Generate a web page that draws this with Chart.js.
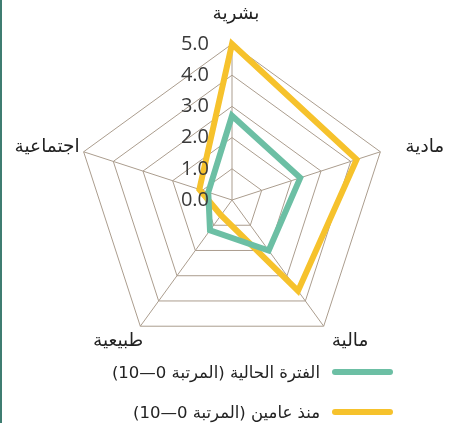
<!DOCTYPE html>
<html lang="ar">
<head>
    <meta charset="UTF-8">
    <title>Radar</title>
    <style>
        body {
            margin: 0;
            background: #fff;
        }

        .wrap {
            position: relative;
            width: 451px;
            height: 423px;
            overflow: hidden;
        }

        .strip {
            position: absolute;
            left: 0;
            top: 0;
            width: 2px;
            height: 423px;
            background: #3f7d71;
        }

        .legend {
            position: absolute;
            right: 58px;
            top: 359px;
            direction: rtl;
            font-family: "DejaVu Sans", sans-serif;
            font-size: 16.5px;
            color: #222;
        }

        .item {
            display: flex;
            align-items: center;
            height: 26px;
            margin-bottom: 14px;
        }

        .swatch {
            width: 61px;
            height: 6px;
            border-radius: 3px;
            margin-left: 12px;
        }
    </style>
</head>

<body>
    <div class="wrap">
        <canvas id="radar" width="451" height="423"></canvas>
        <div class="strip"></div>
        <div class="legend" id="legend"></div>
    </div>

    <script src="https://cdn.jsdelivr.net/npm/chart.js"></script>
    <script>
        // data
        const axisNames = ['بشرية', 'مادية', 'مالية', 'طبيعية', 'اجتماعية'];
        const currentValues = [2.7, 2.3, 2.0, 1.2, 0.8];
        const twoYearsAgo = [5.0, 4.2, 3.6, 0.6, 1.1];
        const tickValues = [0, 1, 2, 3, 4, 5];
        const seriesNames = ['الفترة الحالية (المرتبة 0—10)', 'منذ عامين (المرتبة 0—10)'];

        // label offsets from each outer vertex: [dx, dy, align]
        const labelPlace = [[4, -30, 'center'], [25, -5, 'left'], [8, 15, 'left'], [3, 15, 'right'], [-4, -5, 'right']];

        const labelPlugin = {
            id: 'radarLabels',
            afterDatasetsDraw(chart) {
                const s = chart.scales.r;
                const ctx = chart.ctx;
                ctx.save();
                ctx.fillStyle = '#3a3a3a';
                ctx.font = '20px "Open Sans"';
                ctx.textAlign = 'right';
                ctx.textBaseline = 'middle';
                tickValues.forEach(v => {
                    const y = s.yCenter - s.getDistanceFromCenterForValue(v);
                    ctx.fillText(v.toFixed(1), s.xCenter - 23, y);
                });

                ctx.fillStyle = '#222';
                ctx.font = '18.5px "DejaVu Sans"';
                ctx.direction = 'rtl';
                axisNames.forEach((name, i) => {
                    const p = s.getPointPosition(i, s.drawingArea);
                    const pl = labelPlace[i];
                    ctx.textAlign = pl[2];
                    ctx.fillText(name, p.x + pl[0], p.y + pl[1]);
                });
                ctx.restore();
            }
        };

        const chart = new Chart(document.getElementById('radar'), {
            type: 'radar',
            data: {
                labels: axisNames,
                datasets: [{
                    label: seriesNames[0],
                    data: currentValues,
                    borderColor: '#6cbfa4',
                    backgroundColor: '#6cbfa4',
                    borderWidth: 6,
                    fill: false,
                    pointRadius: 0
                }, {
                    label: seriesNames[1],
                    data: twoYearsAgo,
                    borderColor: '#f6c22c',
                    backgroundColor: '#f6c22c',
                    borderWidth: 6,
                    fill: false,
                    pointRadius: 0
                }]
            },
            options: {
                responsive: false,
                animation: false,
                layout: { padding: { left: 76, right: 63, top: 44, bottom: 67 } },
                plugins: {
                    legend: { display: false },
                    tooltip: { enabled: false }
                },
                scales: {
                    r: {
                        min: 0,
                        max: 5,
                        ticks: { display: false, stepSize: 1 },
                        pointLabels: { display: false },
                        grid: { color: '#ab9d8e', lineWidth: 1 },
                        angleLines: { color: '#ab9d8e', lineWidth: 1 }
                    }
                }
            },
            plugins: [labelPlugin]
        });

        // html legend from the datasets
        const legend = document.getElementById('legend');
        chart.data.datasets.forEach(ds => {
            const row = document.createElement('div');
            row.className = 'item';
            const sw = document.createElement('span');
            sw.className = 'swatch';
            sw.style.background = ds.borderColor;
            const txt = document.createElement('span');
            txt.textContent = ds.label;
            row.appendChild(sw);
            row.appendChild(txt);
            legend.appendChild(row);
        });
    </script>
</body>

</html>
